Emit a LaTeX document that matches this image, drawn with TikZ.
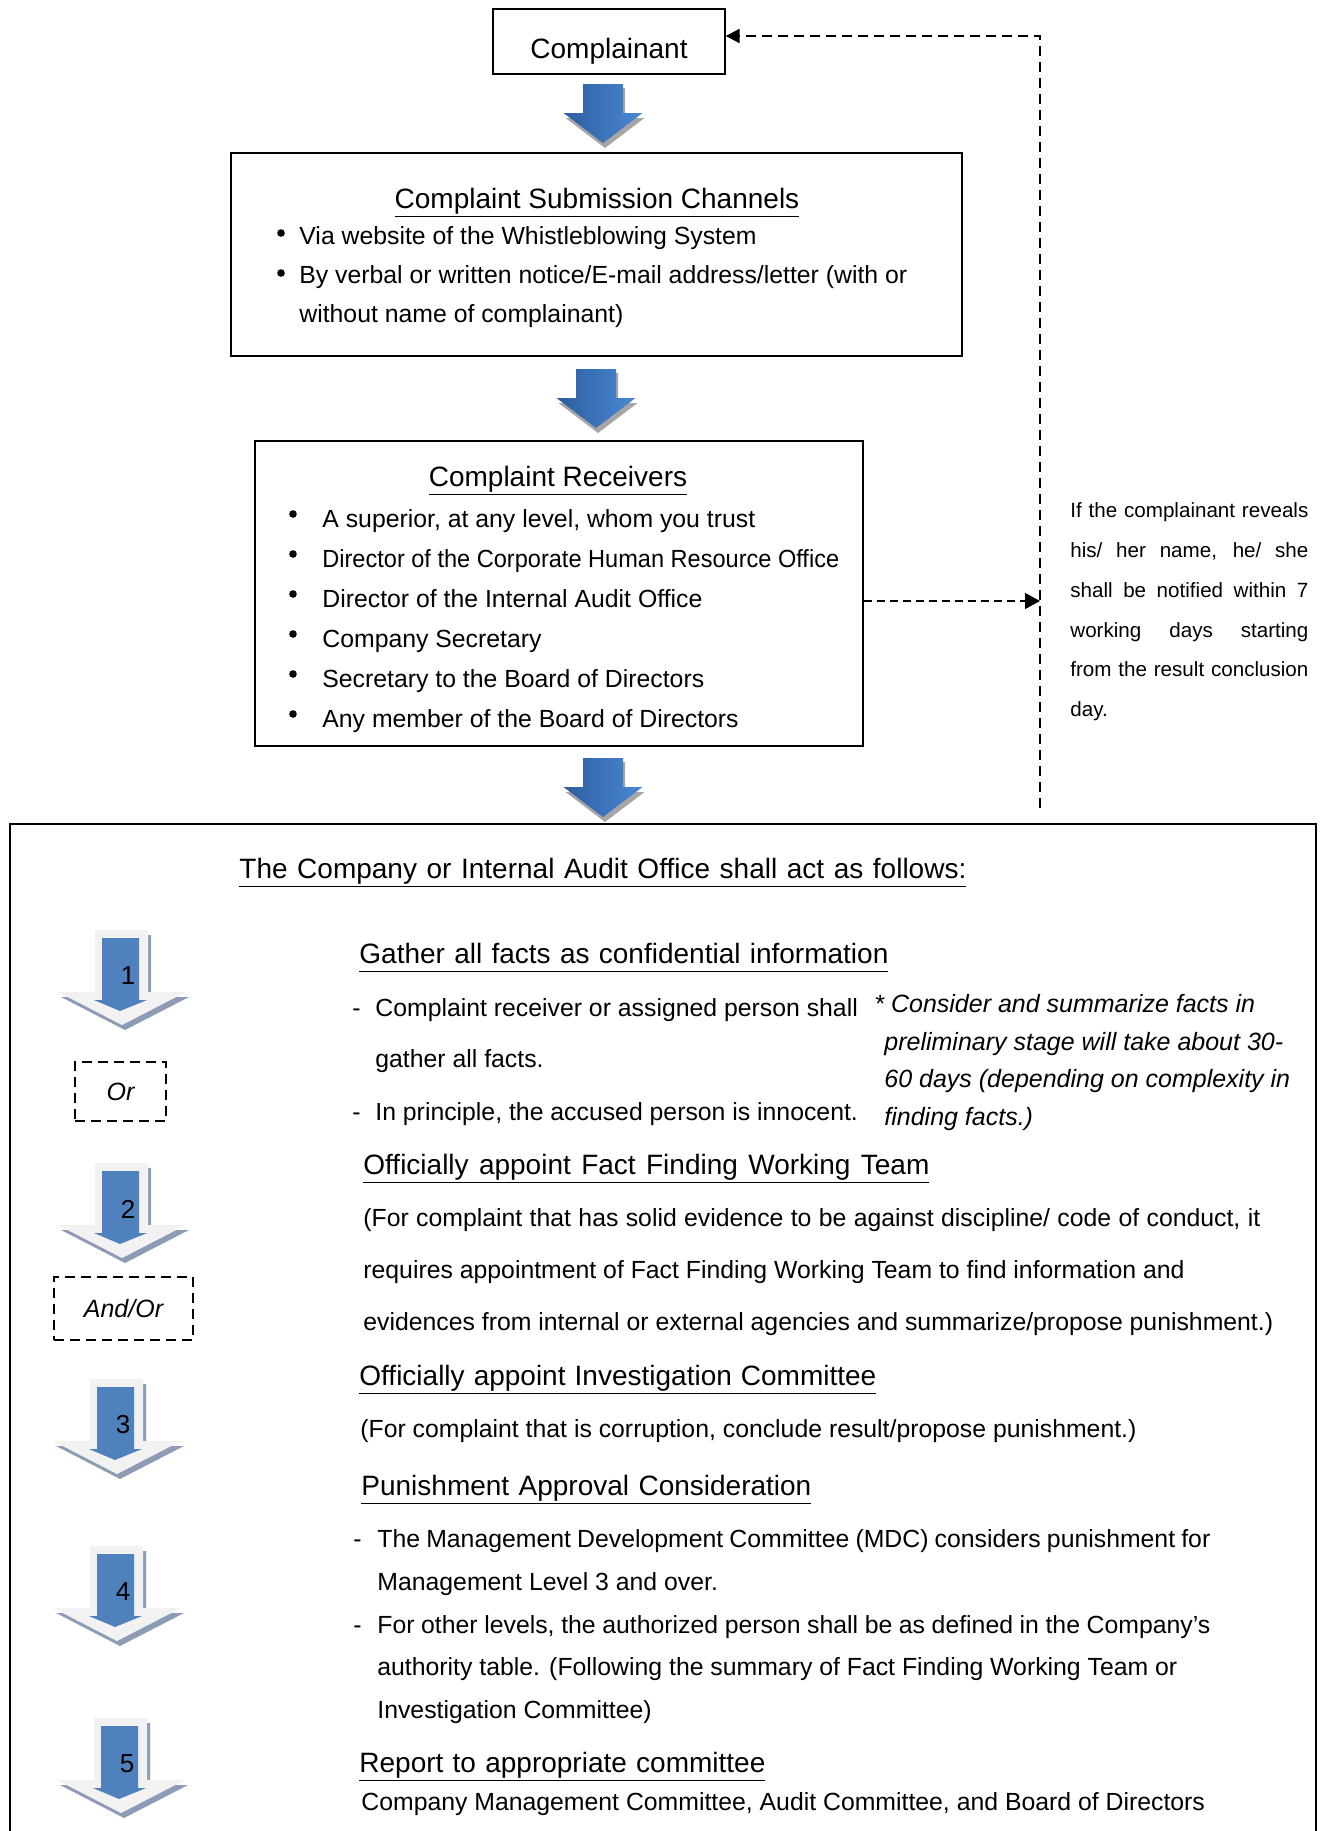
\documentclass[tikz,border=0pt]{standalone}
\usepackage{fontspec}
\usepackage{graphicx}
\setmainfont{Liberation Sans}
\usetikzlibrary{arrows.meta}
\definecolor{blueD}{HTML}{2D5E9E}
\definecolor{blueL}{HTML}{4A88D4}
\definecolor{shadowG}{HTML}{A6A6A6}
\definecolor{innerB}{HTML}{4F81BD}
\definecolor{outerW}{HTML}{F2F2F2}
\definecolor{nshadow}{HTML}{8C9CB4}
\newcommand\fbody{\fontsize{12.4}{14}\selectfont}
\newcommand\fital{\fontsize{12.5}{14}\selectfont\itshape}
\newcommand\fhead{\fontsize{14}{16}\selectfont}
\newcommand\fnote{\fontsize{10.3}{12}\selectfont}
\newcommand\ulx[1]{\underline{#1\vphantom{g}}}
\newcommand\jb[2]{\makebox[#1][s]{#2}}
\newcommand\bluearrow[2]{%
 \begin{scope}[shift={(#1,#2)}]
  \fill[shadowG] (-18,4) -- (22,4) -- (22,34) -- (41.5,34) -- (2,64) -- (-37.5,34) -- (-18,34) -- cycle;
  \shade[left color=blueD, right color=blueL] (-20,0) -- (20,0) -- (20,29) -- (39.5,29) -- (0,59) -- (-39.5,29) -- (-20,29) -- cycle;
 \end{scope}}
\newcommand\numarrow[4]{%
 \begin{scope}[shift={(#2,#3)}]
  \fill[nshadow] (-24,5) -- (29,5) -- (29,67) -- (67,67) -- (3,100) -- (-61,67) -- (-24,67) -- cycle;
  \fill[outerW] (-27,0) -- (26,0) -- (26,62) -- (64,62) -- (0,95) -- (-64,62) -- (-27,62) -- cycle;
  \fill[innerB] (-20,8) -- (17,8) -- (17,70) -- (25,70) -- (-2,81) -- (-28,70) -- (-20,70) -- cycle;
 \end{scope}
 \node[numtxt] (#1) at (#2+6,#3+46) {#4};}
\tikzset{
 box/.style={draw, line width=0.7pt, inner sep=0pt},
 txt/.style={anchor=base west, inner sep=0pt, font=\fbody},
 itxt/.style={anchor=base west, inner sep=0pt, font=\fital},
 hd/.style={anchor=base west, inner sep=0pt, font=\fhead},
 bul/.style={circle, fill=black, inner sep=0pt, minimum size=3.8pt},
 note/.style={anchor=base west, inner sep=0pt, font=\fnote},
 numtxt/.style={inner sep=0pt, font=\fontsize{13}{15}\selectfont},
 dbox/.style={draw, line width=1pt, dash pattern=on 5pt off 3pt, inner sep=0pt, font=\fital},
 link/.style={line width=1pt, dash pattern=on 5pt off 3pt},
 thinlink/.style={line width=0.6pt, dash pattern=on 4pt off 2.5pt}
}
\begin{document}
\begin{tikzpicture}[x=0.5pt,y=-0.5pt]
\useasboundingbox[fill=white] (0,0) rectangle (1321,1831);
% top
\node[box, font=\fhead, minimum width=116pt, minimum height=32.5pt, text height=16.5pt, text depth=0pt] (comp) at (609,41.5) {Complainant};
\bluearrow{603}{84}
\node[box, minimum width=365.5pt, minimum height=101.5pt] (sub) at (596.5,254.5) {};
\node[hd, anchor=base] (subt) at (597,208) {\ulx{Complaint Submission Channels}};
\node[bul] (sb1) at (281,233) {};
\node[txt] (s1) at (299,244) {Via website of the Whistleblowing System};
\node[bul] (sb2) at (281,273) {};
\node[txt] (s2) at (299,283) {By verbal or written notice/E-mail address/letter (with or};
\node[txt] (s3) at (299,322) {without name of complainant)};
\bluearrow{596}{369}
\node[box, minimum width=304pt, minimum height=152.5pt] (recv) at (559,593.5) {};
\node[hd, anchor=base] (recvt) at (558,486) {\ulx{Complaint Receivers}};
\foreach \yy/\tt [count=\i] in {527/{A superior, at any level, whom you trust},
  567/{\scalebox{0.95}[1]{Director of the Corporate Human Resource Office}},
  607/{Director of the Internal Audit Office},
  647/{Company Secretary},
  687/{Secretary to the Board of Directors},
  727/{Any member of the Board of Directors}}{
  \node[bul] (rb\i) at (293,\yy-13) {};
  \node[txt] (r\i) at (322,\yy) {\tt};
}
\bluearrow{603}{758}
% right note and dashed connectors
\coordinate (vtop) at (1040,36);
\coordinate (vbot) at (1040,808);
\coordinate (vmid) at (1040,601);
\draw[link, -{Triangle[length=7pt,width=7pt]}] (vbot) -- (vtop) -- (comp.east |- vtop);
\draw[thinlink, -{Triangle[length=7.5pt,width=8pt]}] (recv.east |- vmid) -- (vmid);
\node[note] (n1) at (1070,517) {\jb{119pt}{If the complainant reveals}};
\node[note] (n2) at (1070,557) {\jb{119pt}{his/ her name, he/ she}};
\node[note] (n3) at (1070,597) {\jb{119pt}{shall be notified within 7}};
\node[note] (n4) at (1070,637) {\jb{119pt}{working days starting}};
\node[note] (n5) at (1070,676) {\jb{119pt}{from the result conclusion}};
\node[note] (n6) at (1070,716) {day.};
% big box
\node[box, line width=0.9pt, anchor=north west, minimum width=653pt, minimum height=510pt] (act) at (9,823) {};
\node[hd] (actt) at (239,878) {\ulx{\jb{363.5pt}{The Company or Internal Audit Office shall act as follows:}}};
% step arrows and connectives
\numarrow{a1}{122}{930}{1}
\node[dbox, minimum width=45.5pt, minimum height=29.5pt] (or) at (120.5,1091.5) {Or};
\numarrow{a2}{122}{1163}{2}
\node[dbox, minimum width=69.5pt, minimum height=31.5pt] (andor) at (123.5,1308.5) {And/Or};
\numarrow{a3}{117}{1379}{3}
\numarrow{a4}{117}{1546}{4}
\numarrow{a5}{121}{1718}{5}
% section 1
\node[hd] (h1) at (359,963) {\ulx{\jb{264.5pt}{Gather all facts as confidential information}}};
\node[txt] (d11) at (352,1016) {-};
\node[txt] (t11) at (375,1016) {Complaint receiver or assigned person shall};
\node[txt] (t12) at (375,1067) {gather all facts.};
\node[txt] (d12) at (352,1120) {-};
\node[txt] (t13) at (375,1120) {In principle, the accused person is innocent.};
\node[itxt] (i1) at (874,1012) {* Consider and summarize facts in};
\node[itxt] (i2) at (884,1050) {preliminary stage will take about 30-};
\node[itxt] (i3) at (884,1087) {60 days (depending on complexity in};
\node[itxt] (i4) at (884,1125) {finding facts.)};
% section 2
\node[hd] (h2) at (363,1174) {\ulx{\jb{283pt}{Officially appoint Fact Finding Working Team}}};
\node[txt] (t21) at (363,1226) {\jb{448.5pt}{(For complaint that has solid evidence to be against discipline/ code of conduct, it}};
\node[txt] (t22) at (363,1278) {requires appointment of Fact Finding Working Team to find information and};
\node[txt] (t23) at (363,1330) {evidences from internal or external agencies and summarize/propose punishment.)};
% section 3
\node[hd] (h3) at (359,1385) {\ulx{\jb{258.5pt}{Officially appoint Investigation Committee}}};
\node[txt] (t31) at (360,1437) {(For complaint that is corruption, conclude result/propose punishment.)};
% section 4
\node[hd] (h4) at (361,1495) {\ulx{\jb{225pt}{Punishment Approval Consideration}}};
\node[txt] (d41) at (353,1547) {-};
\node[txt] (t41) at (377,1547) {\jb{416.5pt}{The Management Development Committee (MDC) considers punishment for}};
\node[txt] (t42) at (377,1590) {Management Level 3 and over.};
\node[txt] (d42) at (353,1633) {-};
\node[txt] (t43) at (377,1633) {\jb{416.5pt}{For other levels, the authorized person shall be as defined in the Company’s}};
\node[txt] (t44) at (377,1675) {authority table. (Following the summary of Fact Finding Working Team or};
\node[txt] (t45) at (377,1718) {Investigation Committee)};
% section 5
\node[hd] (h5) at (359,1772) {\ulx{\jb{203pt}{Report to appropriate committee}}};
\node[txt] (t51) at (361,1810) {Company Management Committee, Audit Committee, and Board of Directors};
\end{tikzpicture}
\end{document}
